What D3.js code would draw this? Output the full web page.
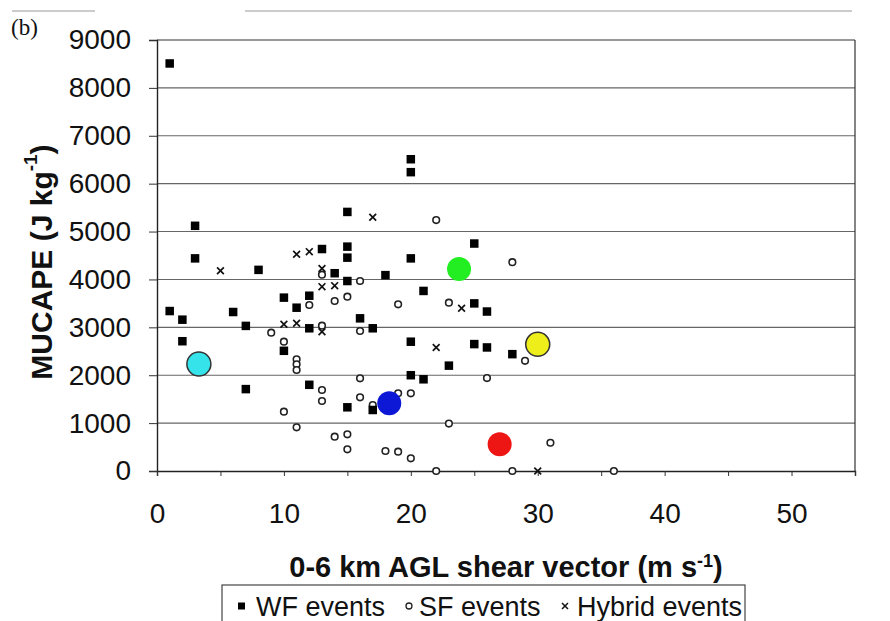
<!DOCTYPE html>
<html>
<head>
<meta charset="utf-8">
<script src="https://cdn.jsdelivr.net/npm/d3@7"></script>
<style>
  html, body { margin: 0; padding: 0; background: #fff; }
  svg { display: block; }
  text { font-family: "Liberation Sans", Arial, Helvetica, sans-serif; fill: #111; }
</style>
</head>
<body>
<svg id="chart" width="890" height="621"></svg>
<script>
// ---- data ----
const wfShear = [1, 3, 3, 8, 1, 2, 6, 7, 2, 7, 10, 10, 11, 12, 12, 12, 13, 14, 15, 15, 15, 15, 15, 16, 17, 17, 18, 20, 20, 20, 20, 20, 21, 21, 23, 25, 25, 26, 25, 26, 28];
const wfCape  = [8510, 5120, 4440, 4200, 3340, 3160, 3320, 3030, 2710, 1710, 3620, 2510, 3410, 3660, 2980, 1800, 4635, 4130, 5410, 4685, 4455, 3967, 1330, 3188, 2980, 1274, 4090, 6510, 6240, 4440, 2700, 2000, 3760, 1915, 2200, 4750, 3500, 3330, 2650, 2580, 2440];

const sfShear = [9, 10, 11, 11, 11, 10, 11, 12, 13, 13, 13, 13, 14, 14, 15, 15, 15, 16, 16, 16, 16, 17, 18, 19, 19, 19, 20, 20, 22, 23, 23, 26, 28, 29, 31, 22, 28, 36];
const sfCape  = [2888, 2700, 2332, 2228, 2109, 1238, 912, 3466, 4100, 3034, 1691, 1462, 3550, 716, 3640, 766, 453, 3967, 2923, 1935, 1539, 1378, 418, 403, 3480, 1622, 1622, 265, 5240, 3514, 990, 1940, 4360, 2300, 590, 0, 0, 0];

const hyShear = [5, 11, 12, 13, 13, 14, 10, 11, 13, 17, 24, 22, 30];
const hyCape  = [4180, 4525, 4580, 4230, 3850, 3870, 3063, 3084, 2909, 5300, 3400, 2580, 0];

const hlShear  = [3.3, 23.8, 30, 18.3, 27];
const hlCape   = [2235, 4220, 2645, 1415, 560];
const hlColors = ["#35e3ea", "#22ee22", "#eeee1a", "#0d17d6", "#ee1515"];
const hlStroke = ["#333", "none", "#333", "none", "none"];

const xTicks = [0, 5, 10, 15, 20, 25, 30, 35, 40, 45, 50, 55];
const yTicks = [0, 1000, 2000, 3000, 4000, 5000, 6000, 7000, 8000, 9000];
const legendLabels = ["WF events", "SF events", "Hybrid events"];

// ---- layout ----
const svg = d3.select("#chart");
const L = 157, R = 855, T = 40, B = 471;

const x = d3.scaleLinear().domain([0, 55]).range([L, R]);
const y = d3.scaleLinear().domain([0, 9000]).range([B, T]);

// scan artefact line at top
svg.append("line").attr("x1", 12).attr("x2", 95).attr("y1", 11).attr("y2", 11)
  .attr("stroke", "#999").attr("stroke-width", 1);
svg.append("line").attr("x1", 245).attr("x2", 852).attr("y1", 11).attr("y2", 11)
  .attr("stroke", "#999").attr("stroke-width", 1);

// gridlines
svg.append("g").selectAll("line")
  .data(yTicks.filter(d => d > 0 && d < 9000))
  .join("line")
  .attr("x1", L).attr("x2", R)
  .attr("y1", d => y(d)).attr("y2", d => y(d))
  .attr("stroke", "#666").attr("stroke-width", 1.1);

// frame (top and right)
svg.append("line").attr("x1", L).attr("x2", R).attr("y1", T).attr("y2", T)
  .attr("stroke", "#333").attr("stroke-width", 1.2);
svg.append("line").attr("x1", R).attr("x2", R).attr("y1", T).attr("y2", B)
  .attr("stroke", "#333").attr("stroke-width", 1.2);

// axes
const yAxis = svg.append("g").attr("transform", `translate(${L},0)`)
  .call(d3.axisLeft(y).tickValues(yTicks).tickFormat(d3.format("d")).tickSize(8).tickPadding(18));
yAxis.selectAll("text").style("font-size", "28px");

const xAxis = svg.append("g").attr("transform", `translate(0,${B})`)
  .call(d3.axisBottom(x).tickValues(xTicks).tickFormat(d => d % 10 === 0 ? d : "").tickSize(5).tickPadding(27));
xAxis.selectAll("text").style("font-size", "28px");

[yAxis, xAxis].forEach(g => {
  g.select(".domain").attr("stroke", "#222").attr("stroke-width", 1.4);
  g.selectAll(".tick line").attr("stroke", "#333").attr("stroke-width", 1);
});

// axis titles
svg.append("text")
  .attr("transform", "translate(41,262) rotate(-90)")
  .attr("text-anchor", "middle").attr("dominant-baseline", "central")
  .style("font-size", "30px").style("font-weight", "bold")
  .html('MUCAPE (J kg<tspan baseline-shift="super" font-size="19px">-1</tspan>)');

svg.append("text")
  .attr("x", (L + R) / 2).attr("y", 577)
  .attr("text-anchor", "middle")
  .style("font-size", "29px").style("font-weight", "bold")
  .html('0-6 km AGL shear vector (m s<tspan baseline-shift="super" font-size="18px">-1</tspan>)');

// panel label
svg.append("text").attr("x", 11).attr("y", 35)
  .style("font-family", "'Liberation Serif', 'Times New Roman', serif").style("font-size", "23px")
  .text("(b)");

// ---- marks ----
const plot = svg.append("g");

// SF events (open circles)
plot.selectAll("circle.sf")
  .data(d3.range(sfShear.length))
  .join("circle").attr("class", "sf")
  .attr("cx", i => x(sfShear[i])).attr("cy", i => y(sfCape[i]))
  .attr("r", 3.3)
  .attr("fill", "#fff").attr("stroke", "#222").attr("stroke-width", 1.6);

// WF events (filled squares)
const sq = 8.5;
plot.selectAll("rect.wf")
  .data(d3.range(wfShear.length))
  .join("rect").attr("class", "wf")
  .attr("x", i => x(wfShear[i]) - sq / 2).attr("y", i => y(wfCape[i]) - sq / 2)
  .attr("width", sq).attr("height", sq)
  .attr("fill", "#000");

// Hybrid events (crosses)
const hx = 3.4;
plot.selectAll("path.hy")
  .data(d3.range(hyShear.length))
  .join("path").attr("class", "hy")
  .attr("d", i => {
    const cx = x(hyShear[i]), cy = y(hyCape[i]);
    return `M${cx - hx},${cy - hx}L${cx + hx},${cy + hx}M${cx - hx},${cy + hx}L${cx + hx},${cy - hx}`;
  })
  .attr("stroke", "#111").attr("stroke-width", 1.7).attr("fill", "none");

// highlighted coloured circles
plot.selectAll("circle.hl")
  .data(d3.range(hlShear.length))
  .join("circle").attr("class", "hl")
  .attr("cx", i => x(hlShear[i])).attr("cy", i => y(hlCape[i]))
  .attr("r", 12)
  .attr("fill", i => hlColors[i])
  .attr("stroke", i => hlStroke[i]).attr("stroke-width", 1.5);

// ---- legend ----
const lg = svg.append("g");
lg.append("rect").attr("x", 222).attr("y", 585).attr("width", 523).attr("height", 50)
  .attr("fill", "none").attr("stroke", "#444").attr("stroke-width", 1.2);

const legY = 606;
lg.append("rect").attr("x", 238).attr("y", legY - 3.5).attr("width", 7).attr("height", 7).attr("fill", "#000");
lg.append("circle").attr("cx", 409).attr("cy", legY).attr("r", 3).attr("fill", "#fff")
  .attr("stroke", "#222").attr("stroke-width", 1.3);
lg.append("path").attr("d", `M${562},${legY - 3}L${568},${legY + 3}M${562},${legY + 3}L${568},${legY - 3}`)
  .attr("stroke", "#111").attr("stroke-width", 1.5);

const legX = [256, 419, 577];
lg.selectAll("text.leg").data(legendLabels).join("text").attr("class", "leg")
  .attr("x", (d, i) => legX[i]).attr("y", 616)
  .style("font-size", "27px")
  .text(d => d);
</script>
</body>
</html>
